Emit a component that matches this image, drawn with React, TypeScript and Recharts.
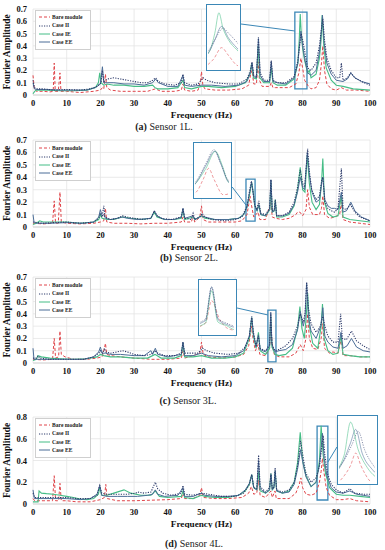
import {
    LineChart,
    Line,
    XAxis,
    YAxis,
    CartesianGrid,
    ReferenceArea,
    ReferenceLine,
    Legend,
} from "recharts";

type Pt = [number, number];

// ---------- Sensor 1L ----------
const S1_BARE: Pt[] = [[0,0.16],[0.4,0.05],[1,0.03],[3,0.03],[5,0.025],[6,0.03],[6.3,0.26],[6.6,0.03],[7.5,0.03],[8.0,0.18],[8.3,0.03],[10,0.03],[12,0.025],[14,0.02],[16,0.025],[18,0.03],[20,0.04],[20.6,0.06],[21,0.05],[21.5,0.17],[21.9,0.06],[23,0.04],[26,0.03],[30,0.03],[34,0.03],[36.3,0.05],[38,0.03],[42,0.03],[44,0.04],[44.5,0.09],[45,0.04],[47,0.03],[49,0.04],[49.7,0.12],[50,0.19],[50.4,0.08],[51,0.05],[54,0.04],[58,0.04],[62,0.05],[64,0.08],[64.6,0.17],[65,0.2],[65.5,0.09],[66.3,0.09],[66.8,0.27],[67.2,0.12],[68,0.07],[70.3,0.07],[70.7,0.1],[71.2,0.06],[72,0.06],[74,0.06],[76,0.06],[78,0.09],[78.9,0.18],[79.5,0.3],[80,0.22],[80.6,0.12],[81.5,0.08],[82.5,0.05],[84,0.06],[85,0.12],[85.6,0.26],[86,0.4],[86.5,0.2],[87.2,0.09],[88.5,0.05],[90,0.04],[91.5,0.06],[93,0.04],[96,0.04],[100,0.03]];
const S1_II: Pt[] = [[0,0.12],[0.4,0.06],[1,0.05],[3,0.05],[6,0.04],[10,0.045],[14,0.04],[17,0.05],[19,0.07],[20.2,0.1],[20.6,0.2],[21,0.11],[22,0.13],[24,0.14],[26,0.13],[28,0.12],[30,0.11],[32,0.1],[34,0.1],[35.5,0.12],[36.4,0.14],[37.2,0.11],[39,0.09],[42,0.08],[44,0.1],[44.5,0.17],[45,0.1],[47,0.08],[49,0.09],[50.5,0.14],[51.5,0.12],[54,0.1],[58,0.09],[61,0.09],[63.5,0.13],[64.5,0.2],[65,0.27],[65.5,0.16],[66.3,0.15],[66.9,0.47],[67.4,0.18],[68.5,0.12],[70.2,0.12],[70.7,0.28],[71.2,0.12],[72.5,0.1],[75,0.1],[77.5,0.15],[78.6,0.28],[79.0,0.38],[79.6,0.5],[80.0,0.45],[80.6,0.36],[81.5,0.22],[82.5,0.2],[84,0.26],[85,0.4],[85.5,0.52],[86,0.62],[86.5,0.45],[87.2,0.3],[88.5,0.2],[90,0.14],[91,0.14],[91.5,0.26],[92,0.12],[93.3,0.14],[94.3,0.18],[95.5,0.14],[97.5,0.11],[100,0.08]];
const S1_IE: Pt[] = [[0,0.01],[0.5,0.03],[1,0.04],[4,0.04],[8,0.035],[12,0.035],[16,0.04],[18.5,0.06],[19.4,0.1],[19.8,0.18],[20.2,0.1],[21,0.08],[22,0.09],[24,0.08],[27,0.08],[30,0.07],[33,0.07],[35.5,0.08],[36.2,0.06],[37,0.05],[40,0.05],[43,0.06],[44.5,0.12],[45,0.06],[47,0.05],[50,0.07],[52,0.07],[56,0.06],[60,0.07],[63,0.1],[64.4,0.17],[64.9,0.26],[65.4,0.14],[66.3,0.13],[66.8,0.4],[67.3,0.14],[68.5,0.1],[70.2,0.1],[70.7,0.22],[71.2,0.1],[72.5,0.08],[75,0.08],[77.5,0.13],[78.6,0.26],[79.0,0.45],[79.3,0.66],[79.6,0.5],[80.0,0.38],[80.6,0.28],[81.5,0.18],[82,0.2],[82.5,0.14],[84,0.17],[85,0.3],[85.5,0.45],[85.8,0.65],[86.3,0.4],[87,0.22],[88.5,0.12],[90,0.08],[92,0.07],[95,0.05],[100,0.04]];
const S1_EE: Pt[] = [[0,0.1],[0.4,0.05],[1,0.045],[4,0.045],[8,0.04],[12,0.04],[16,0.04],[18.5,0.06],[20,0.09],[20.6,0.23],[21,0.1],[22,0.1],[24,0.1],[27,0.09],[30,0.09],[33,0.08],[35.5,0.1],[36.4,0.13],[37.2,0.1],[40,0.07],[43,0.07],[44.5,0.16],[45,0.08],[47,0.07],[50,0.08],[53,0.08],[57,0.07],[61,0.08],[63.5,0.11],[64.5,0.18],[65,0.26],[65.5,0.15],[66.3,0.14],[66.9,0.46],[67.4,0.16],[68.5,0.11],[70.2,0.11],[70.7,0.27],[71.2,0.11],[72.5,0.1],[75,0.09],[77.5,0.14],[78.6,0.26],[79.0,0.38],[79.5,0.52],[80.0,0.4],[80.6,0.3],[81.5,0.18],[82.5,0.16],[84,0.2],[85,0.35],[85.5,0.5],[85.9,0.65],[86.4,0.42],[87.2,0.26],[88.5,0.17],[90,0.12],[92,0.11],[93.3,0.13],[94.3,0.18],[95.5,0.14],[97.5,0.11],[100,0.09]];

// ---------- Sensor 2L ----------
const S2_BARE: Pt[] = [[0,0.03],[3,0.025],[5.8,0.03],[6.3,0.21],[6.7,0.03],[7.5,0.03],[8,0.28],[8.4,0.04],[10,0.03],[14,0.025],[18,0.03],[20,0.04],[21,0.05],[21.5,0.15],[21.9,0.04],[24,0.03],[28,0.03],[32,0.025],[36,0.03],[40,0.03],[44,0.04],[44.5,0.08],[45,0.04],[47,0.04],[47.5,0.09],[48,0.04],[49.5,0.08],[50,0.17],[50.5,0.06],[52,0.04],[56,0.04],[60,0.04],[62,0.05],[63.5,0.1],[64,0.18],[64.4,0.25],[64.8,0.18],[65.5,0.08],[66.8,0.12],[67.3,0.06],[69,0.06],[70.6,0.2],[71,0.08],[72,0.07],[74,0.06],[76,0.07],[78,0.1],[78.5,0.12],[79.2,0.12],[80,0.09],[81,0.14],[81.5,0.3],[82,0.16],[83,0.1],[85,0.1],[85.6,0.15],[86,0.25],[86.5,0.1],[88,0.07],[89.5,0.08],[91,0.1],[91.5,0.2],[92,0.06],[94,0.04],[97,0.03],[100,0.02]];
const S2_II: Pt[] = [[0,0.04],[3,0.03],[6,0.035],[10,0.04],[14,0.03],[18,0.04],[19.5,0.07],[20,0.11],[20.5,0.08],[21,0.17],[21.4,0.08],[23,0.06],[25,0.07],[26.5,0.09],[28,0.08],[30,0.07],[33,0.06],[35,0.07],[36,0.13],[36.8,0.09],[38,0.07],[41,0.06],[44,0.08],[44.5,0.15],[45,0.07],[47,0.06],[47.5,0.11],[48,0.06],[49.5,0.08],[50.2,0.11],[51,0.08],[53,0.06],[57,0.05],[60,0.06],[62,0.08],[63.5,0.17],[64.2,0.28],[64.8,0.37],[65.3,0.28],[65.8,0.18],[66.4,0.14],[67,0.21],[67.6,0.11],[69,0.1],[70.2,0.15],[70.6,0.38],[71,0.13],[71.6,0.14],[71.9,0.22],[72.3,0.09],[74,0.09],[76,0.12],[77.5,0.2],[78.5,0.32],[79.3,0.46],[80,0.35],[80.6,0.32],[81.5,0.63],[82,0.45],[82.7,0.3],[84,0.22],[85,0.25],[85.7,0.38],[86,0.4],[86.6,0.2],[87.5,0.15],[88.5,0.13],[89.5,0.12],[90.5,0.15],[91.5,0.47],[92,0.15],[93,0.14],[94.2,0.18],[95.5,0.12],[97,0.08],[100,0.05]];
const S2_IE: Pt[] = [[0,0.02],[1,0.03],[2,0.05],[3,0.04],[6,0.04],[10,0.04],[14,0.03],[18,0.04],[19.5,0.06],[20,0.1],[20.5,0.07],[22,0.06],[24,0.06],[26.5,0.08],[29,0.07],[32,0.06],[35,0.07],[36,0.12],[36.8,0.08],[39,0.06],[42,0.06],[44,0.07],[44.5,0.14],[45,0.06],[47.5,0.08],[48,0.06],[50,0.09],[51,0.07],[54,0.06],[58,0.06],[61,0.07],[62.5,0.1],[63.5,0.16],[64.2,0.25],[64.9,0.36],[65.4,0.27],[65.8,0.17],[66.5,0.13],[67,0.18],[67.6,0.1],[69,0.09],[70.3,0.14],[70.6,0.36],[71,0.12],[71.6,0.13],[71.9,0.22],[72.3,0.08],[74,0.08],[76,0.1],[77.5,0.17],[78.5,0.3],[79.3,0.48],[80,0.3],[80.7,0.28],[81.4,0.58],[82,0.35],[82.8,0.2],[84,0.14],[85,0.18],[85.6,0.35],[86,0.55],[86.5,0.2],[87.5,0.11],[89,0.08],[90.5,0.09],[91.5,0.25],[92,0.08],[94,0.06],[97,0.05],[100,0.04]];
const S2_EE: Pt[] = [[0,0.1],[0.3,0.04],[1,0.03],[5,0.03],[10,0.035],[15,0.03],[18,0.04],[19.5,0.08],[20,0.14],[20.5,0.09],[21,0.1],[21.5,0.07],[23,0.06],[25,0.07],[26.5,0.08],[28,0.07],[31,0.06],[35,0.07],[36,0.13],[36.8,0.09],[39,0.06],[42,0.06],[44,0.08],[44.5,0.15],[45,0.07],[47.5,0.09],[48,0.06],[50,0.09],[51,0.08],[54,0.06],[58,0.06],[61,0.07],[62.5,0.1],[63.5,0.16],[64.2,0.27],[64.85,0.36],[65.3,0.28],[65.8,0.17],[66.5,0.13],[67,0.18],[67.6,0.1],[69,0.09],[70.2,0.14],[70.6,0.38],[71,0.12],[71.6,0.13],[71.9,0.2],[72.3,0.09],[74,0.09],[76,0.11],[77.5,0.18],[78.5,0.28],[79.3,0.4],[80,0.32],[80.6,0.3],[81.4,0.6],[82,0.42],[82.8,0.28],[84,0.2],[85,0.22],[85.7,0.36],[86,0.4],[86.6,0.22],[87.5,0.17],[88.5,0.15],[89.5,0.15],[90.5,0.14],[91.5,0.28],[92,0.12],[93,0.13],[94.3,0.2],[95.5,0.13],[97.5,0.08],[100,0.05]];

// ---------- Sensor 3L ----------
const S3_BARE: Pt[] = [[0,0.03],[3,0.025],[5.8,0.03],[6.3,0.2],[6.7,0.04],[7.6,0.05],[8,0.26],[8.4,0.07],[9.5,0.05],[12,0.03],[16,0.03],[19,0.04],[20.5,0.05],[21.2,0.12],[21.5,0.16],[21.9,0.07],[23,0.06],[26,0.05],[30,0.04],[35,0.03],[40,0.03],[44,0.04],[44.5,0.1],[45,0.04],[47.5,0.06],[49.5,0.08],[50,0.17],[50.5,0.07],[52,0.05],[56,0.04],[60,0.05],[62.5,0.07],[64,0.14],[64.8,0.3],[65.3,0.2],[66,0.1],[66.8,0.15],[67.3,0.07],[69,0.06],[70.2,0.12],[70.55,0.3],[71,0.15],[71.6,0.07],[73,0.05],[76,0.05],[78,0.08],[79.3,0.15],[80.2,0.1],[81,0.2],[81.5,0.4],[82,0.2],[83,0.12],[84.5,0.11],[85.5,0.2],[86,0.32],[86.5,0.12],[88,0.08],[89,0.09],[90.5,0.08],[91.5,0.2],[92,0.06],[94,0.06],[97,0.05],[100,0.05]];
const S3_II: Pt[] = [[0,0.04],[1,0.04],[1.5,0.06],[2,0.04],[5,0.03],[10,0.03],[15,0.03],[18,0.05],[19.5,0.08],[20,0.1],[20.6,0.08],[21.2,0.12],[21.6,0.09],[23,0.08],[25,0.09],[26.5,0.1],[28,0.09],[30,0.07],[33,0.06],[35,0.07],[36.2,0.1],[37,0.08],[39,0.06],[42,0.06],[44,0.08],[44.5,0.17],[45,0.08],[47.5,0.08],[49,0.08],[50.3,0.12],[51.5,0.1],[54,0.08],[58,0.07],[61,0.08],[63,0.13],[64.2,0.22],[64.9,0.38],[65.4,0.25],[66.2,0.14],[66.9,0.22],[67.4,0.12],[69,0.1],[70.2,0.15],[70.55,0.41],[70.9,0.16],[71.4,0.12],[71.8,0.1],[73,0.11],[75,0.14],[77,0.2],[78.5,0.3],[79.3,0.4],[80.2,0.33],[80.7,0.4],[81.2,0.66],[81.7,0.45],[82.5,0.32],[84,0.25],[85.3,0.3],[86,0.38],[86.6,0.3],[87.5,0.22],[89,0.17],[90.5,0.17],[91.3,0.4],[91.8,0.2],[93,0.19],[94.5,0.26],[96,0.18],[98,0.14],[100,0.11]];
const S3_IE: Pt[] = [[0,0.02],[1,0.03],[1.5,0.06],[2.5,0.05],[5,0.04],[8,0.035],[12,0.03],[16,0.035],[19,0.05],[20,0.07],[21,0.06],[23,0.05],[26,0.05],[30,0.04],[34,0.04],[36.2,0.07],[38,0.04],[42,0.04],[44,0.06],[44.5,0.16],[45,0.05],[47.5,0.05],[50,0.06],[53,0.04],[57,0.04],[60,0.05],[62.5,0.08],[64.2,0.2],[64.9,0.37],[65.4,0.22],[66.2,0.12],[66.9,0.25],[67.4,0.1],[69,0.07],[70.2,0.12],[70.55,0.38],[70.9,0.13],[71.4,0.1],[71.8,0.07],[73,0.06],[75,0.07],[77,0.12],[78.5,0.28],[79.2,0.46],[79.8,0.28],[80.5,0.2],[81,0.35],[81.5,0.57],[82,0.3],[83,0.16],[84.5,0.12],[85.5,0.3],[85.9,0.48],[86.4,0.2],[87.5,0.1],[89,0.07],[90.5,0.08],[91.4,0.22],[92,0.07],[94,0.06],[97,0.05],[100,0.05]];
const S3_EE: Pt[] = [[0,0.12],[0.3,0.03],[1,0.03],[5,0.03],[10,0.03],[15,0.03],[18,0.05],[19.5,0.09],[20,0.13],[20.5,0.08],[21.5,0.08],[23,0.07],[26,0.07],[30,0.06],[33,0.06],[35,0.1],[35.5,0.07],[36.3,0.12],[37,0.07],[40,0.05],[44,0.07],[44.5,0.17],[45,0.06],[47.5,0.06],[50,0.08],[52,0.06],[56,0.05],[60,0.06],[62.5,0.1],[64.2,0.22],[64.9,0.37],[65.4,0.24],[66.2,0.13],[66.9,0.23],[67.4,0.11],[69,0.09],[70.2,0.14],[70.55,0.41],[70.9,0.15],[71.4,0.11],[71.8,0.09],[73,0.1],[75,0.11],[77,0.15],[78.5,0.27],[79.3,0.42],[80.2,0.3],[80.7,0.36],[81.2,0.65],[81.7,0.38],[82.5,0.26],[84,0.2],[85.4,0.3],[86,0.45],[86.6,0.22],[87.5,0.17],[89,0.13],[90.5,0.12],[91.4,0.25],[92,0.12],[93.2,0.14],[94.5,0.2],[96,0.13],[98,0.1],[100,0.09]];

// ---------- Sensor 4L ----------
const S4_BARE: Pt[] = [[0,0.05],[0.5,0.03],[3,0.03],[5.8,0.03],[6.3,0.26],[6.7,0.03],[7.6,0.03],[8,0.19],[8.4,0.03],[10,0.03],[13,0.02],[17,0.02],[20,0.04],[21.2,0.06],[21.6,0.18],[22,0.05],[25,0.03],[30,0.03],[35,0.035],[40,0.04],[44,0.05],[44.5,0.1],[45,0.05],[47.5,0.05],[49.5,0.08],[50,0.15],[50.5,0.06],[54,0.05],[58,0.05],[62,0.06],[64,0.1],[64.8,0.16],[65.5,0.09],[66.4,0.1],[66.9,0.22],[67.4,0.08],[69,0.06],[70.6,0.12],[71,0.06],[71.8,0.12],[72.2,0.05],[74,0.05],[76,0.05],[78,0.1],[79,0.18],[79.5,0.24],[80,0.15],[81,0.09],[82.5,0.08],[84,0.1],[85,0.2],[85.5,0.3],[85.9,0.42],[86.3,0.3],[87,0.15],[88,0.08],[90,0.04],[92,0.04],[94,0.05],[96,0.03],[100,0.02]];
const S4_II: Pt[] = [[0,0.1],[0.5,0.06],[3,0.06],[6,0.06],[10,0.06],[13,0.05],[17,0.05],[19,0.08],[19.8,0.17],[20.4,0.1],[22,0.09],[25,0.09],[28,0.09],[30.5,0.1],[31,0.11],[33,0.1],[35,0.11],[36.3,0.2],[37,0.14],[38.5,0.1],[41,0.08],[44,0.1],[44.5,0.17],[45,0.09],[47.5,0.08],[50,0.1],[52,0.09],[56,0.07],[60,0.07],[62.5,0.1],[64.2,0.18],[64.9,0.27],[65.5,0.15],[66.4,0.14],[66.95,0.45],[67.4,0.16],[69,0.11],[70.2,0.15],[70.6,0.28],[71,0.14],[71.5,0.16],[71.85,0.33],[72.3,0.13],[74,0.11],[76,0.13],[77.5,0.2],[78.5,0.35],[79.4,0.58],[80.2,0.42],[81,0.28],[82.5,0.2],[84,0.24],[85,0.35],[85.6,0.5],[86.1,0.63],[86.6,0.45],[87.4,0.28],[88.5,0.18],[90,0.13],[92,0.1],[94,0.14],[95.5,0.1],[98,0.09],[100,0.09]];
const S4_IE: Pt[] = [[0,0.02],[1.5,0.02],[1.8,0.12],[2.5,0.1],[4,0.095],[6,0.09],[8,0.08],[10,0.07],[12,0.06],[14,0.045],[16,0.04],[18,0.05],[19.4,0.09],[19.8,0.15],[20.4,0.08],[22,0.08],[24,0.1],[27,0.13],[29,0.1],[32,0.08],[35,0.08],[36.3,0.12],[37.5,0.07],[40,0.06],[44,0.07],[44.5,0.12],[45,0.06],[47.5,0.05],[50,0.08],[51,0.07],[54,0.06],[58,0.06],[61,0.08],[63,0.12],[64.2,0.18],[64.9,0.27],[65.5,0.15],[66.4,0.13],[66.95,0.3],[67.4,0.12],[69,0.1],[70.2,0.13],[70.6,0.28],[71,0.13],[71.5,0.15],[71.85,0.3],[72.3,0.12],[74,0.1],[76,0.12],[77.5,0.2],[78.5,0.38],[79.3,0.66],[80,0.4],[81,0.26],[82.5,0.16],[84,0.2],[85,0.4],[85.5,0.72],[86.1,0.45],[86.8,0.28],[88,0.15],[90,0.09],[92,0.08],[94,0.08],[97,0.07],[100,0.06]];
const S4_EE: Pt[] = [[0,0.13],[0.4,0.05],[3,0.05],[6,0.05],[10,0.05],[14,0.04],[17,0.05],[19,0.09],[19.8,0.17],[20.4,0.08],[22,0.07],[25,0.07],[28,0.07],[31,0.07],[34,0.08],[35.5,0.09],[36.3,0.13],[37,0.09],[39,0.07],[43,0.08],[44.5,0.15],[45,0.07],[47.5,0.07],[50,0.1],[51,0.08],[54,0.07],[58,0.07],[61,0.08],[63,0.13],[64.2,0.19],[64.9,0.27],[65.5,0.15],[66.4,0.13],[66.95,0.4],[67.4,0.14],[69,0.1],[70.2,0.13],[70.6,0.27],[71,0.13],[71.5,0.15],[71.85,0.3],[72.3,0.12],[74,0.1],[76,0.11],[77.5,0.18],[78.5,0.32],[79.4,0.5],[80.2,0.36],[81,0.25],[82.5,0.16],[84,0.2],[85,0.36],[85.5,0.52],[85.9,0.65],[86.4,0.42],[87.2,0.26],[88.5,0.15],[90,0.11],[92,0.1],[94,0.12],[96,0.09],[98,0.08],[100,0.07]];

const X_TICKS = [0, 10, 20, 30, 40, 50, 60, 70, 80, 90, 100];
const Y_TICKS_07 = [0, 0.1, 0.2, 0.3, 0.4, 0.5, 0.6, 0.7];
const Y_TICKS_08 = [0, 0.2, 0.4, 0.6, 0.8];

const SERIES = [
    { key: "bare", name: "Bare module", color: "#e0454a", dash: "3 2", width: 1 },
    { key: "ii", name: "Case II", color: "#2c3a6a", dash: "1.2 1.3", width: 1.1 },
    { key: "ie", name: "Case IE", color: "#45bd86", dash: undefined, width: 1.1 },
    { key: "ee", name: "Case EE", color: "#4b6d97", dash: undefined, width: 1 },
];
// drawing order (dotted Case II on top)
const DRAW_ORDER = ["bare", "ie", "ee", "ii"];

const BLUE = "#3b87b6";
const FONT = "'Liberation Serif', 'Times New Roman', serif";

const toRows = (pts: Pt[]) => pts.map(([f, a]) => ({ f, a }));

const PANELS = [
    {
        id: "a", caption: "Sensor 1L.", captionX: 164, captionY: 127,
        plotTop: 9, plotBottom: 95, yMax: 0.7, yTicks: Y_TICKS_07,
        series: { bare: S1_BARE, ii: S1_II, ie: S1_IE, ee: S1_EE },
        zoom: { x1: 77.7, x2: 81.3, y1: 0.05, y2: 0.675 },
        insetX: [78.5, 80.7], insetY: [0.1, 0.72],
        inset: { left: 206, top: 4, width: 35, height: 67 },
        link: [{ x: 61.7, y: 0.578 }, { x: 77.7, y: 0.521 }],
    },
    {
        id: "b", caption: "Sensor 2L.", captionX: 189, captionY: 258,
        plotTop: 140, plotBottom: 227, yMax: 0.7, yTicks: Y_TICKS_07,
        series: { bare: S2_BARE, ii: S2_II, ie: S2_IE, ee: S2_EE },
        zoom: { x1: 63.2, x2: 65.9, y1: 0.048, y2: 0.386 },
        insetX: [63.4, 65.9], insetY: [0.08, 0.4],
        inset: { left: 193, top: 142, width: 39, height: 57 },
        link: [{ x: 59.1, y: 0.322 }, { x: 63.2, y: 0.177 }],
    },
    {
        id: "c", caption: "Sensor 3L.", captionX: 188, captionY: 401,
        plotTop: 277, plotBottom: 363, yMax: 0.7, yTicks: Y_TICKS_07,
        series: { bare: S3_BARE, ii: S3_II, ie: S3_IE, ee: S3_EE },
        zoom: { x1: 69.7, x2: 72.1, y1: 0.008, y2: 0.431 },
        insetX: [69.9, 71.8], insetY: [0.05, 0.45],
        inset: { left: 198, top: 279, width: 39, height: 57 },
        link: [{ x: 60.5, y: 0.448 }, { x: 69.7, y: 0.391 }],
    },
    {
        id: "d", caption: "Sensor 4L.", captionX: 194, captionY: 544,
        plotTop: 417, plotBottom: 504, yMax: 0.8, yTicks: Y_TICKS_08,
        series: { bare: S4_BARE, ii: S4_II, ie: S4_IE, ee: S4_EE },
        zoom: { x1: 84.3, x2: 87.5, y1: 0.037, y2: 0.717 },
        insetX: [84.6, 87.4], insetY: [0.15, 0.76],
        inset: { left: 337, top: 415, width: 41, height: 70 },
        link: [{ x: 87.5, y: 0.386 }, { x: 90.2, y: 0.524 }],
    },
];

const MARGIN_TOP = 9;
const X_AXIS_H = 24;
const Y_AXIS_W = 33;
const CHART_W = 385;
const PLOT_RIGHT = 370;

const fmtY = (v: number) => (v === 0 ? "0" : String(v));

const LegendBox = () => (
    <div
        style={{
            border: "1px solid #cfcfcf",
            background: "#fff",
            padding: "2px 4px 2px 3px",
            fontFamily: FONT,
            fontWeight: 700,
            fontSize: 5.6,
            lineHeight: "8.4px",
            color: "#222",
            width: 47,
        }}
    >
        {SERIES.map((s) => (
            <div key={s.key} style={{ display: "flex", alignItems: "center" }}>
                <svg width={11} height={6} style={{ marginRight: 2 }}>
                    <line
                        x1={0}
                        y1={3}
                        x2={11}
                        y2={3}
                        stroke={s.color}
                        strokeWidth={1}
                        strokeDasharray={s.dash}
                    />
                </svg>
                <span>{s.name}</span>
            </div>
        ))}
    </div>
);

const Panel = ({ p }: { p: (typeof PANELS)[number] }) => {
    const plotH = p.plotBottom - p.plotTop;
    const chartH = MARGIN_TOP + plotH + X_AXIS_H;
    const series = p.series as Record<string, Pt[]>;
    const byKey = Object.fromEntries(SERIES.map((s) => [s.key, s]));

    return (
        <>
            <div style={{ position: "absolute", left: 0, top: p.plotTop - MARGIN_TOP }}>
                <LineChart
                    width={CHART_W}
                    height={chartH}
                    margin={{ top: MARGIN_TOP, right: CHART_W - PLOT_RIGHT, bottom: 0, left: 0 }}
                >
                    <CartesianGrid stroke="#e4e4e4" strokeWidth={0.8} />
                    <XAxis
                        dataKey="f"
                        type="number"
                        domain={[0, 100]}
                        ticks={X_TICKS}
                        interval={0}
                        height={X_AXIS_H}
                        tickLine={false}
                        tickSize={3}
                        tickMargin={2}
                        axisLine={{ stroke: "#d4d4d4" }}
                        tick={{ fontFamily: FONT, fontWeight: 700, fontSize: 8.5, fill: "#111" }}
                        label={{
                            value: "Frequency (Hz)",
                            position: "insideBottom",
                            offset: 1,
                            style: { fontFamily: FONT, fontWeight: 700, fontSize: 9.2, fill: "#111" },
                        }}
                    />
                    <YAxis
                        type="number"
                        domain={[0, p.yMax]}
                        ticks={p.yTicks}
                        interval={0}
                        width={Y_AXIS_W}
                        tickFormatter={fmtY}
                        tickLine={false}
                        tickSize={3}
                        tickMargin={3}
                        axisLine={false}
                        tick={{ fontFamily: FONT, fontWeight: 700, fontSize: 8.5, fill: "#111" }}
                        label={{
                            value: "Fourier Amplitude",
                            angle: -90,
                            position: "insideLeft",
                            offset: 7,
                            style: {
                                fontFamily: FONT,
                                fontWeight: 700,
                                fontSize: 9.4,
                                fill: "#111",
                                textAnchor: "middle",
                            },
                        }}
                    />
                    {DRAW_ORDER.map((k) => (
                        <Line
                            key={k}
                            data={toRows(series[k])}
                            dataKey="a"
                            name={byKey[k].name}
                            type="linear"
                            stroke={byKey[k].color}
                            strokeWidth={byKey[k].width}
                            strokeDasharray={byKey[k].dash}
                            dot={false}
                            activeDot={false}
                            isAnimationActive={false}
                        />
                    ))}
                    <ReferenceArea
                        x1={p.zoom.x1}
                        x2={p.zoom.x2}
                        y1={p.zoom.y1}
                        y2={p.zoom.y2}
                        stroke={BLUE}
                        strokeWidth={1.3}
                        fill="none"
                        fillOpacity={0}
                        ifOverflow="visible"
                    />
                    <ReferenceLine
                        segment={p.link}
                        stroke={BLUE}
                        strokeWidth={1}
                        ifOverflow="visible"
                    />
                    <Legend
                        layout="vertical"
                        align="center"
                        verticalAlign="middle"
                        content={() => <LegendBox />}
                        wrapperStyle={{ left: 35, top: MARGIN_TOP + 1, width: "auto", height: "auto" }}
                    />
                </LineChart>
            </div>

            <div
                style={{
                    position: "absolute",
                    left: p.inset.left,
                    top: p.inset.top,
                    width: p.inset.width,
                    height: p.inset.height,
                    border: `1.5px solid ${BLUE}`,
                    background: "#fff",
                    boxSizing: "border-box",
                    overflow: "hidden",
                }}
            >
                <LineChart
                    width={p.inset.width - 3}
                    height={p.inset.height - 3}
                    margin={{ top: 2, right: 1, bottom: 2, left: 1 }}
                >
                    <XAxis dataKey="f" type="number" domain={p.insetX} allowDataOverflow hide />
                    <YAxis type="number" domain={p.insetY} allowDataOverflow hide />
                    {DRAW_ORDER.map((k) => (
                        <Line
                            key={k}
                            data={toRows(series[k])}
                            dataKey="a"
                            type="monotone"
                            stroke={byKey[k].color}
                            strokeOpacity={0.6}
                            strokeWidth={0.9}
                            strokeDasharray={byKey[k].dash}
                            dot={false}
                            activeDot={false}
                            isAnimationActive={false}
                        />
                    ))}
                </LineChart>
            </div>

            <div
                style={{
                    position: "absolute",
                    left: p.captionX - 60,
                    width: 120,
                    top: p.captionY - 5,
                    height: 11,
                    lineHeight: "10px",
                    textAlign: "center",
                    fontFamily: FONT,
                    fontSize: 10,
                    color: "#222",
                    whiteSpace: "nowrap",
                }}
            >
                <b>({p.id})</b> {p.caption}
            </div>
        </>
    );
};

const App = () => (
    <div
        style={{
            position: "absolute",
            left: 0,
            top: 0,
            width: 385,
            height: 550,
            background: "#fff",
            overflow: "hidden",
        }}
    >
        {PANELS.map((p) => (
            <Panel key={p.id} p={p} />
        ))}
    </div>
);

export default App;
